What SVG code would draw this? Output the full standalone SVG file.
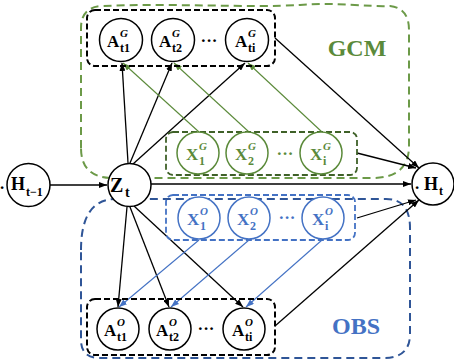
<svg xmlns="http://www.w3.org/2000/svg" width="454" height="362" viewBox="0 0 454 362">
<style>
.bg{fill:#fff}
.reg-g{fill:none;stroke:#6c9a48;stroke-width:2;stroke-dasharray:8 5}
.reg-b{fill:none;stroke:#2f5597;stroke-width:2;stroke-dasharray:8 5}
.box-k{fill:none;stroke:#000;stroke-width:2;stroke-dasharray:6 3}
.box-g{fill:none;stroke:#3f6128;stroke-width:1.8;stroke-dasharray:6 3}
.box-b{fill:none;stroke:#4472c4;stroke-width:1.8;stroke-dasharray:6 3}
.nk{fill:#fff;stroke:#000;stroke-width:1.5}
.ng{fill:#fff;stroke:#5b8a3a;stroke-width:1.5}
.nb{fill:#fff;stroke:#4472c4;stroke-width:1.5}
.ek{stroke:#000;stroke-width:1.3;fill:none;marker-end:url(#ak)}
.eg{stroke:#5b8a3a;stroke-width:1.1;fill:none;marker-end:url(#ag)}
.eb{stroke:#4472c4;stroke-width:1.1;fill:none;marker-end:url(#ab)}
text{font-family:"Liberation Serif","DejaVu Serif",serif;font-weight:bold}
.m{font-size:17px}
.s{font-size:12px}
.p{font-size:11px;font-style:italic}
.tk{fill:#000}
.tg{fill:#5b8a3a}
.tb{fill:#4472c4}
.big{font-size:24px}
</style>
<defs>
<marker id="ak" markerWidth="8" markerHeight="6" refX="8" refY="3" orient="auto" markerUnits="userSpaceOnUse"><path d="M0,0 L8,3 L0,6 z" fill="#000"/></marker>
<marker id="ag" markerWidth="8" markerHeight="6" refX="8" refY="3" orient="auto" markerUnits="userSpaceOnUse"><path d="M0,0 L8,3 L0,6 z" fill="#5b8a3a"/></marker>
<marker id="ab" markerWidth="8" markerHeight="6" refX="8" refY="3" orient="auto" markerUnits="userSpaceOnUse"><path d="M0,0 L8,3 L0,6 z" fill="#4472c4"/></marker>
</defs>
<rect class="bg" x="0" y="0" width="454" height="362"/>

<g id="regions">
<path class="reg-g" d="M81 148 L81 28 Q81 7 102 6 C170 3 250 8 300 5 C340 2 365 7 390 6 Q409 8 409 30 L409 146 Q409 178 372 178 L113 178 Q81 178 81 148 Z"/>
<path class="reg-b" d="M81 250 Q81 199 116 199 L386 199 Q410 199 410 228 L410 334 Q410 358 384 358 L100 358 Q81 358 81 340 Z"/>
<text class="big tg" x="357" y="56" text-anchor="middle">GCM</text>
<text class="big tb" x="356" y="334" text-anchor="middle">OBS</text>
</g>

<g id="connectors">
<line class="ek" x1="50" y1="185" x2="107" y2="185"/>
<line class="ek" x1="151" y1="184" x2="411" y2="184"/>
<line class="ek" x1="128" y1="163" x2="122" y2="63"/>
<line class="ek" x1="130" y1="163" x2="172" y2="63"/>
<line class="ek" x1="133" y1="164" x2="245" y2="63"/>
<line class="ek" x1="127" y1="207" x2="118" y2="307"/>
<line class="ek" x1="130" y1="207" x2="169" y2="307"/>
<line class="ek" x1="134" y1="206" x2="243" y2="307"/>
<line class="eg" x1="199" y1="132" x2="123" y2="63"/>
<line class="eg" x1="249" y1="132" x2="174" y2="63"/>
<line class="eg" x1="322" y1="132" x2="248" y2="63"/>
<line class="eb" x1="199" y1="240" x2="119" y2="307"/>
<line class="eb" x1="249" y1="240" x2="171" y2="307"/>
<line class="eb" x1="322" y1="240" x2="246" y2="307"/>
<line class="ek" x1="275" y1="38" x2="419" y2="168"/>
<line class="ek" x1="357" y1="153" x2="416" y2="168"/>
<line class="ek" x1="357" y1="218" x2="416" y2="200"/>
<line class="ek" x1="275" y1="326" x2="419" y2="200"/>
</g>

<g id="AG-group">
<rect class="box-k" x="87" y="10" width="188" height="56" rx="8"/>
<text class="m tk" x="209" y="46" text-anchor="middle">···</text>
</g>
<g id="A_t1_G"><circle class="nk" cx="121" cy="40" r="21.5"/><text class="m tk" x="107" y="47">A</text><text class="p tk" x="120" y="37">G</text><text class="s tk" x="120" y="52">t1</text></g>
<g id="A_t2_G"><circle class="nk" cx="173" cy="40" r="21.5"/><text class="m tk" x="159" y="47">A</text><text class="p tk" x="172" y="37">G</text><text class="s tk" x="172" y="52">t2</text></g>
<g id="A_ti_G"><circle class="nk" cx="247" cy="40" r="21.5"/><text class="m tk" x="235" y="47">A</text><text class="p tk" x="248" y="37">G</text><text class="s tk" x="248" y="52">ti</text></g>

<g id="XG-group">
<rect class="box-g" x="166" y="132" width="191" height="43" rx="7"/>
<text class="m tg" x="285" y="159" text-anchor="middle">···</text>
</g>
<g id="X_1_G"><circle class="ng" cx="198" cy="153" r="21"/><text class="m tg" x="186" y="160">X</text><text class="p tg" x="199" y="150">G</text><text class="s tg" x="199" y="165">1</text></g>
<g id="X_2_G"><circle class="ng" cx="247" cy="153" r="21"/><text class="m tg" x="235" y="160">X</text><text class="p tg" x="248" y="150">G</text><text class="s tg" x="248" y="165">2</text></g>
<g id="X_i_G"><circle class="ng" cx="321" cy="153" r="21"/><text class="m tg" x="310" y="160">X</text><text class="p tg" x="323" y="150">G</text><text class="s tg" x="323" y="165">i</text></g>

<g id="XO-group">
<rect class="box-b" x="166" y="195" width="189" height="45" rx="7"/>
<text class="m tb" x="287" y="223" text-anchor="middle">···</text>
</g>
<g id="X_1_O"><circle class="nb" cx="199" cy="218" r="21"/><text class="m tb" x="187" y="225">X</text><text class="p tb" x="200" y="215">O</text><text class="s tb" x="200" y="230">1</text></g>
<g id="X_2_O"><circle class="nb" cx="249" cy="218" r="21"/><text class="m tb" x="237" y="225">X</text><text class="p tb" x="250" y="215">O</text><text class="s tb" x="250" y="230">2</text></g>
<g id="X_i_O"><circle class="nb" cx="323" cy="218" r="21"/><text class="m tb" x="312" y="225">X</text><text class="p tb" x="325" y="215">O</text><text class="s tb" x="325" y="230">i</text></g>

<g id="AO-group">
<rect class="box-k" x="87" y="299" width="188" height="56" rx="8"/>
<text class="m tk" x="206" y="334" text-anchor="middle">···</text>
</g>
<g id="A_t1_O"><circle class="nk" cx="118" cy="329" r="21"/><text class="m tk" x="104" y="336">A</text><text class="p tk" x="117" y="326">O</text><text class="s tk" x="117" y="341">t1</text></g>
<g id="A_t2_O"><circle class="nk" cx="170" cy="329" r="21"/><text class="m tk" x="156" y="336">A</text><text class="p tk" x="169" y="326">O</text><text class="s tk" x="169" y="341">t2</text></g>
<g id="A_ti_O"><circle class="nk" cx="244" cy="329" r="21"/><text class="m tk" x="232" y="336">A</text><text class="p tk" x="245" y="326">O</text><text class="s tk" x="245" y="341">ti</text></g>

<g id="H_tm1"><circle class="nk" cx="28.5" cy="185" r="21.5"/><text class="m tk" x="0" y="189">.</text><text class="m tk" x="11" y="190" style="font-size:18px">H</text><text class="s tk" x="26" y="196">t−1</text></g>
<g id="Z_t"><circle class="nk" cx="129.5" cy="185" r="21.5"/><text class="tk" x="110" y="192" style="font-size:20px">Z</text><text class="tk" x="125" y="197" style="font-size:14px">t</text></g>
<g id="H_t"><circle class="nk" cx="433" cy="184" r="21"/><text class="m tk" x="415" y="189">.</text><text class="m tk" x="424" y="190" style="font-size:18px">H</text><text class="s tk" x="439" y="195">t</text></g>
</svg>
